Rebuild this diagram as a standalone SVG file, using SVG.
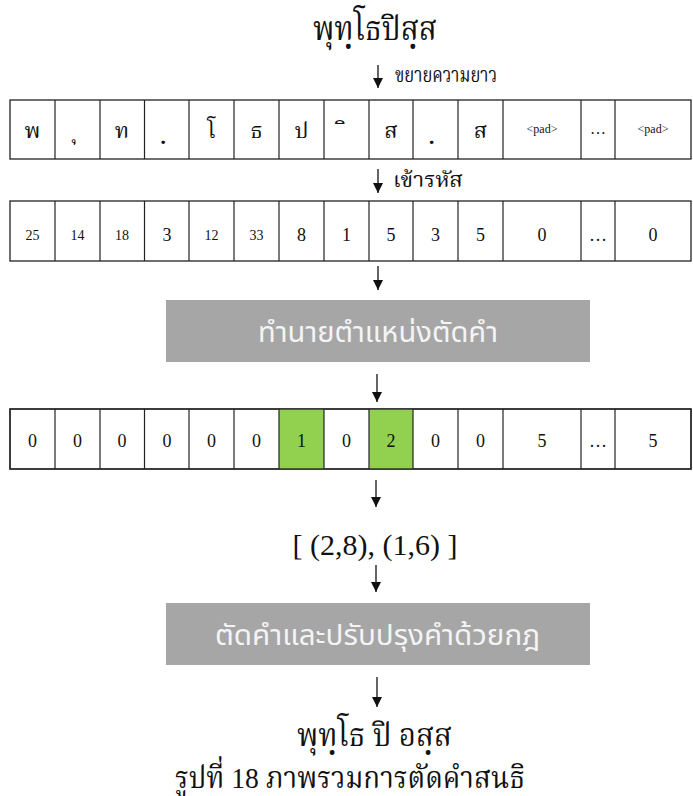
<svg xmlns="http://www.w3.org/2000/svg" width="693" height="796" viewBox="0 0 693 796">
<style>
.th{font-family:"Liberation Serif","Noto Serif Thai","Noto Sans Thai",serif;fill:#111}
.ts{font-family:"Liberation Serif",serif;fill:#111}
.box{fill:#fff;stroke:#222;stroke-width:1.3}
.div{stroke:#222;stroke-width:1.2}
.green{fill:#92d050}
.gray{fill:#a6a6a6}
.wt{font-family:"Noto Sans Thai","Noto Sans","DejaVu Sans",sans-serif;fill:#f4f4f4;font-size:28px}
.conn line{stroke:#111;stroke-width:1.3}
</style>
<defs>
<marker id="ah" viewBox="0 0 10 10" refX="10" refY="5" markerWidth="10" markerHeight="10" markerUnits="userSpaceOnUse" orient="auto">
<path d="M0,0 L10,5 L0,10 Z" fill="#111"/>
</marker>
</defs>

<g id="title"><text class="th" x="313" y="40" font-size="33" textLength="124" lengthAdjust="spacingAndGlyphs">พุทฺโธปิสฺส</text></g>
<g id="lbl-expand"><text class="th" x="395" y="82" font-size="21" textLength="102" lengthAdjust="spacingAndGlyphs">ขยายความยาว</text></g>

<g id="row-chars">
<rect class="box" x="10" y="100" width="681" height="59"/>
<g class="div">
<line x1="55" y1="100" x2="55" y2="159"/><line x1="100" y1="100" x2="100" y2="159"/><line x1="144.5" y1="100" x2="144.5" y2="159"/><line x1="189" y1="100" x2="189" y2="159"/><line x1="234" y1="100" x2="234" y2="159"/><line x1="279" y1="100" x2="279" y2="159"/><line x1="324" y1="100" x2="324" y2="159"/><line x1="369" y1="100" x2="369" y2="159"/><line x1="413" y1="100" x2="413" y2="159"/><line x1="458" y1="100" x2="458" y2="159"/><line x1="503" y1="100" x2="503" y2="159"/><line x1="581" y1="100" x2="581" y2="159"/><line x1="615" y1="100" x2="615" y2="159"/>
</g>
<g class="th" font-size="22" text-anchor="middle">
<text x="32.5" y="138">พ</text><text x="77.5" y="138">ุ</text><text x="122" y="138">ท</text><text x="167" y="138">ฺ</text><text x="211.5" y="138">โ</text><text x="256.5" y="138">ธ</text><text x="301.5" y="138">ป</text><text x="346.5" y="138">ิ</text><text x="391" y="138">ส</text><text x="435.5" y="138">ฺ</text><text x="480.5" y="138">ส</text>
</g>
<g class="ts" font-size="12" text-anchor="middle">
<text x="542" y="133">&lt;pad&gt;</text><text x="653" y="133">&lt;pad&gt;</text>
</g>
<text class="ts" x="598" y="134" font-size="16" text-anchor="middle">…</text>
</g>

<g id="lbl-encode"><text class="th" x="393" y="187" font-size="21" textLength="70" lengthAdjust="spacingAndGlyphs">เข้ารหัส</text></g>

<g id="row-codes">
<rect class="box" x="10" y="201" width="681" height="60"/>
<g class="div">
<line x1="55" y1="201" x2="55" y2="261"/><line x1="100" y1="201" x2="100" y2="261"/><line x1="144.5" y1="201" x2="144.5" y2="261"/><line x1="189" y1="201" x2="189" y2="261"/><line x1="234" y1="201" x2="234" y2="261"/><line x1="279" y1="201" x2="279" y2="261"/><line x1="324" y1="201" x2="324" y2="261"/><line x1="369" y1="201" x2="369" y2="261"/><line x1="413" y1="201" x2="413" y2="261"/><line x1="458" y1="201" x2="458" y2="261"/><line x1="503" y1="201" x2="503" y2="261"/><line x1="581" y1="201" x2="581" y2="261"/><line x1="615" y1="201" x2="615" y2="261"/>
</g>
<g class="ts" font-size="14" text-anchor="middle">
<text x="32.5" y="240">25</text><text x="77.5" y="240">14</text><text x="122" y="240">18</text><text x="211.5" y="240">12</text><text x="256.5" y="240">33</text>
</g>
<g class="ts" font-size="18" text-anchor="middle">
<text x="167" y="241">3</text><text x="301.5" y="241">8</text><text x="346.5" y="241">1</text><text x="391" y="241">5</text><text x="435.5" y="241">3</text><text x="480.5" y="241">5</text><text x="542" y="241">0</text><text x="598" y="241">…</text><text x="653" y="241">0</text>
</g>
</g>

<g id="predict">
<rect class="gray" x="166" y="300" width="424" height="62"/>
<text class="wt" x="258" y="342" textLength="240" lengthAdjust="spacingAndGlyphs">ทำนายตำแหน่งตัดคำ</text>
</g>

<g id="row-pred">
<rect class="box" x="10" y="409" width="681" height="60"/>
<rect class="green" x="279" y="409" width="45" height="60"/>
<rect class="green" x="369" y="409" width="44" height="60"/>
<rect x="10" y="409" width="681" height="60" fill="none" stroke="#222" stroke-width="1.3"/>
<g class="div">
<line x1="55" y1="409" x2="55" y2="469"/><line x1="100" y1="409" x2="100" y2="469"/><line x1="144.5" y1="409" x2="144.5" y2="469"/><line x1="189" y1="409" x2="189" y2="469"/><line x1="234" y1="409" x2="234" y2="469"/><line x1="279" y1="409" x2="279" y2="469"/><line x1="324" y1="409" x2="324" y2="469"/><line x1="369" y1="409" x2="369" y2="469"/><line x1="413" y1="409" x2="413" y2="469"/><line x1="458" y1="409" x2="458" y2="469"/><line x1="503" y1="409" x2="503" y2="469"/><line x1="581" y1="409" x2="581" y2="469"/><line x1="615" y1="409" x2="615" y2="469"/>
</g>
<g class="ts" font-size="18" text-anchor="middle">
<text x="32.5" y="447">0</text><text x="77.5" y="447">0</text><text x="122" y="447">0</text><text x="167" y="447">0</text><text x="211.5" y="447">0</text><text x="256.5" y="447">0</text><text x="301.5" y="447">1</text><text x="346.5" y="447">0</text><text x="391" y="447">2</text><text x="435.5" y="447">0</text><text x="480.5" y="447">0</text><text x="542" y="447">5</text><text x="598" y="447">…</text><text x="653" y="447">5</text>
</g>
</g>

<g id="positions"><text class="ts" x="375" y="555" font-size="30" text-anchor="middle">[ (2,8), (1,6) ]</text></g>

<g id="segment">
<rect class="gray" x="166" y="603" width="424" height="62"/>
<text class="wt" x="215" y="645" textLength="325" lengthAdjust="spacingAndGlyphs">ตัดคำและปรับปรุงคำด้วยกฎ</text>
</g>

<g id="result"><text class="th" x="297" y="746" font-size="32" textLength="155" lengthAdjust="spacingAndGlyphs">พุทฺโธ ปิ อสฺส</text></g>
<g id="caption"><text class="th" x="175" y="788" font-size="30" textLength="350" lengthAdjust="spacingAndGlyphs">รูปที่ 18 ภาพรวมการตัดคำสนธิ</text></g>

<g class="conn">
<line x1="378" y1="65" x2="378" y2="88" marker-end="url(#ah)"/>
<line x1="378" y1="169" x2="378" y2="193" marker-end="url(#ah)"/>
<line x1="378" y1="266" x2="378" y2="290" marker-end="url(#ah)"/>
<line x1="377" y1="374" x2="377" y2="402" marker-end="url(#ah)"/>
<line x1="376" y1="480" x2="376" y2="507" marker-end="url(#ah)"/>
<line x1="376" y1="565" x2="376" y2="592" marker-end="url(#ah)"/>
<line x1="377" y1="677" x2="377" y2="707" marker-end="url(#ah)"/>
</g>
</svg>
